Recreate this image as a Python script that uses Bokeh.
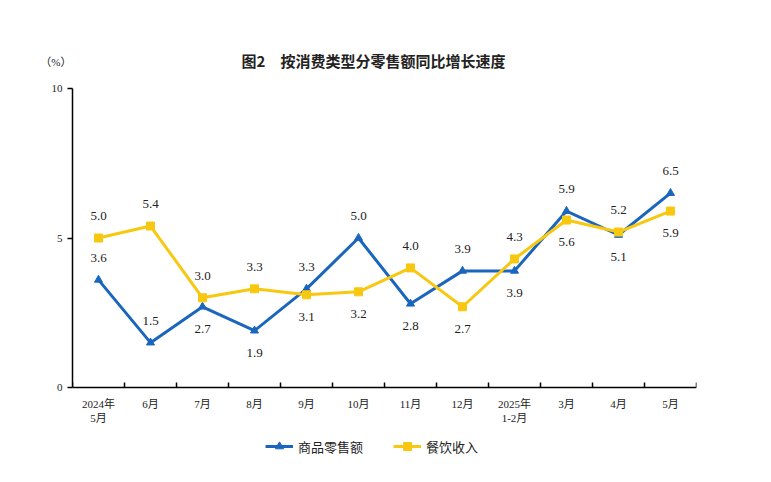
from bokeh.plotting import figure
from bokeh.models import (Range1d, FixedTicker, ColumnDataSource, Legend, LegendItem,
                          Label, LinearAxis)
from bokeh.core.properties import value
from bokeh.embed import file_html
from bokeh.resources import INLINE

# ---- data ----
months = ["2024年\n5月", "6月", "7月", "8月", "9月", "10月", "11月", "12月",
          "2025年\n1-2月", "3月", "4月", "5月"]
retail = [3.6, 1.5, 2.7, 1.9, 3.3, 5.0, 2.8, 3.9, 3.9, 5.9, 5.1, 6.5]
catering = [5.0, 5.4, 3.0, 3.3, 3.1, 3.2, 4.0, 2.7, 4.3, 5.6, 5.2, 5.9]
y_ticks = [0, 5, 10]
series_names = ["商品零售额", "餐饮收入"]
title_text = "图2\u3000按消费类型分零售额同比增长速度"
unit_text = "（%）"

# ---- style ----
retail_side = [1, 1, -1, -1, 1, 1, -1, 1, -1, 1, -1, 1]     # 1 label above, -1 below
catering_side = [1, 1, 1, 1, -1, -1, 1, -1, 1, -1, 1, -1]
BLUE = "#1a66be"
YELLOW = "#f8c811"
TXT = "#222222"
SERIF = "Liberation Serif, Noto Sans CJK SC"
CJK = "Noto Sans CJK SC"
OFF = 22

# layout in screen pixels
W, H = 763, 474
FRAME_L, FRAME_R = 72, 696
AX_TOP, AX_BOT = 88, 387          # y = 10 and y = 0
FRAME_T, FRAME_B = 44, 470
PX_PER_UNIT = (AX_BOT - AX_TOP) / 10.0
Y_END = (AX_BOT - FRAME_T) / PX_PER_UNIT
Y_START = -(FRAME_B - AX_BOT) / PX_PER_UNIT
TITLE_Y = (AX_BOT - 60) / PX_PER_UNIT
UNIT_Y = (AX_BOT - 61) / PX_PER_UNIT
LEGEND_XY = (265 - FRAME_L, FRAME_B - 456)

n = len(months)
xs = [i + 0.5 for i in range(n)]

p = figure(frame_width=FRAME_R - FRAME_L, frame_height=FRAME_B - FRAME_T,
           output_backend="svg", toolbar_location=None,
           x_range=Range1d(0, n), y_range=Range1d(Y_START, Y_END),
           min_border_left=FRAME_L, min_border_right=W - FRAME_R,
           min_border_top=FRAME_T, min_border_bottom=H - FRAME_B)
p.outline_line_color = None
p.xgrid.visible = False
p.ygrid.visible = False

# x axis drawn at y = 0: labels at category centers, ticks at category boundaries
xa = p.xaxis[0]
xa.fixed_location = 0
xa.ticker = FixedTicker(ticks=xs, minor_ticks=list(range(n + 1)))
xa.major_label_overrides = {x: m for x, m in zip(xs, months)}
xa.major_tick_line_color = None
xa.minor_tick_in = 5
xa.minor_tick_out = 0
xa.minor_tick_line_color = "black"
xa.minor_tick_line_width = 1.5
xa.axis_line_color = "black"
xa.axis_line_width = 1.5
xa.major_label_text_font = SERIF
xa.major_label_text_font_size = "11px"
xa.major_label_text_color = TXT
xa.major_label_standoff = 4

ya = p.yaxis[0]
ya.bounds = (0, 10)
ya.ticker = FixedTicker(ticks=y_ticks, minor_ticks=[])
ya.major_tick_in = 0
ya.major_tick_out = 5
ya.major_tick_line_width = 1.5
ya.axis_line_width = 1.5
ya.axis_line_color = "black"
ya.major_label_text_font = SERIF
ya.major_label_text_font_size = "11px"
ya.major_label_text_color = TXT
ya.major_label_standoff = 5

# unit label "（%）" as a tick label of a line-less second axis
ua = LinearAxis(ticker=FixedTicker(ticks=[UNIT_Y], minor_ticks=[]),
                major_label_overrides={UNIT_Y: unit_text},
                axis_line_color=None, major_tick_line_color=None,
                minor_tick_line_color=None, major_label_standoff=-29,
                major_label_text_font=SERIF, major_label_text_font_size="11px",
                major_label_text_color=TXT)
p.add_layout(ua, "left")

src = ColumnDataSource(dict(
    x=xs, retail=retail, catering=catering,
    rlab=[f"{v:.1f}" for v in retail], clab=[f"{v:.1f}" for v in catering],
    roff=[-OFF * s for s in retail_side], coff=[-OFF * s for s in catering_side],
))

r_line = p.line("x", "retail", source=src, line_color=BLUE, line_width=3)
r_pts = p.scatter("x", "retail", source=src, marker="triangle", size=8,
                  fill_color=BLUE, line_color=BLUE)
c_line = p.line("x", "catering", source=src, line_color=YELLOW, line_width=3)
c_pts = p.scatter("x", "catering", source=src, marker="square", size=8,
                  fill_color=YELLOW, line_color=YELLOW)

p.text("x", "retail", text="rlab", source=src, y_offset="roff",
       text_align="center", text_baseline="middle", text_font=value(SERIF),
       text_font_size="13px", text_color=TXT)
p.text("x", "catering", text="clab", source=src, y_offset="coff",
       text_align="center", text_baseline="middle", text_font=value(SERIF),
       text_font_size="13px", text_color=TXT)

# title (inside the top of the frame)
p.add_layout(Label(x=n / 2, y=TITLE_Y, x_offset=-11, text=title_text,
                   text_align="center", text_baseline="middle", text_font=CJK,
                   text_font_size="15px", text_font_style="bold", text_color=TXT))

legend = Legend(items=[LegendItem(label=series_names[0], renderers=[r_line, r_pts]),
                       LegendItem(label=series_names[1], renderers=[c_line, c_pts])],
                orientation="horizontal", location=LEGEND_XY,
                glyph_width=28, spacing=30, padding=0, margin=0,
                label_text_font=CJK, label_text_font_size="13px",
                label_text_color=TXT, border_line_color=None,
                background_fill_alpha=0)
p.add_layout(legend, "center")

open("out.html", "w").write(file_html(p, INLINE))
